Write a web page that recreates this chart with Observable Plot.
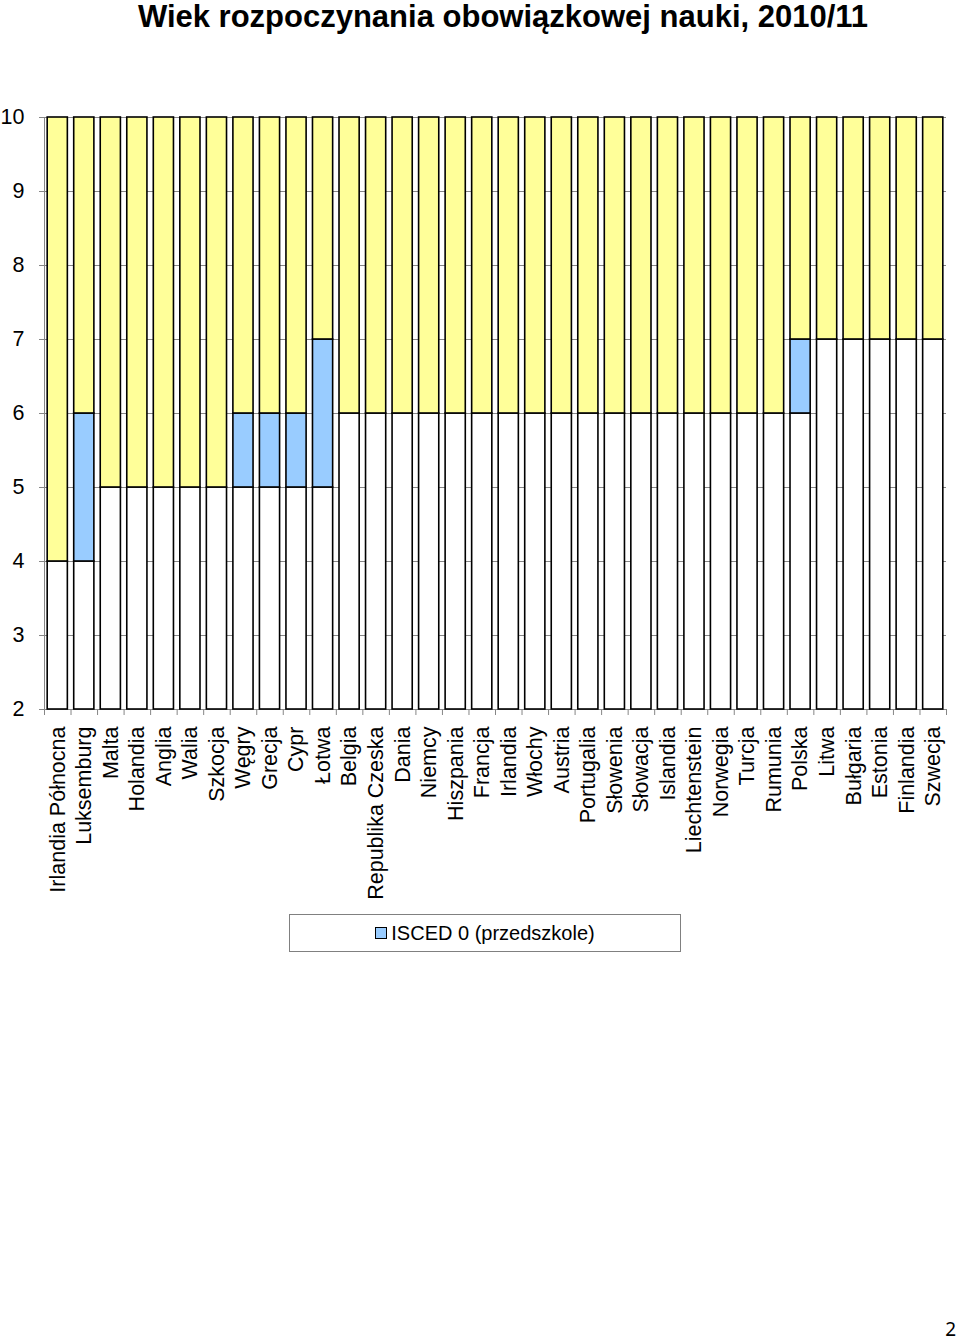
<!DOCTYPE html>
<html>
<head>
<meta charset="utf-8">
<script src="https://cdn.jsdelivr.net/npm/d3@7"></script>
<script src="https://cdn.jsdelivr.net/npm/@observablehq/plot@0.6"></script>
<style>
  body { margin: 0; background: #fff; font-family: "Liberation Sans", Arial, sans-serif; }
  #page { position: relative; width: 960px; height: 1342px; overflow: hidden; }
  #title { position: absolute; top: -1px; left: 46px; width: 914px; text-align: center;
           font-size: 31px; font-weight: bold; line-height: 36px; white-space: nowrap; }
  #chart { position: absolute; top: 40px; left: 0; }
  #legend { position: absolute; top: 914px; left: 289px; width: 390px; height: 36px;
            border: 1px solid #808080; box-sizing: content-box; display: flex;
            align-items: center; justify-content: center; font-size: 20px; }
  #legend .sw { width: 10px; height: 10px; background: #99CCFF; border: 1.5px solid #000; margin-right: 4px; }
  #pagenum { position: absolute; right: 4px; top: 1320px; font-size: 19px; line-height: 18px; font-family: "Noto Sans", sans-serif; }
</style>
</head>
<body>
<div id="page">
  <div id="title">Wiek rozpoczynania obowiązkowej nauki, 2010/11</div>
  <div id="chart"></div>
  <div id="legend"><span class="sw"></span><span>ISCED 0 (przedszkole)</span></div>
  <div id="pagenum">2</div>
</div>
<script>
const countries = ["Irlandia Północna","Luksemburg","Malta","Holandia","Anglia","Walia","Szkocja","Węgry","Grecja","Cypr","Łotwa","Belgia","Republika Czeska","Dania","Niemcy","Hiszpania","Francja","Irlandia","Włochy","Austria","Portugalia","Słowenia","Słowacja","Islandia","Liechtenstein","Norwegia","Turcja","Rumunia","Polska","Litwa","Bułgaria","Estonia","Finlandia","Szwecja"];
// age at which compulsory education starts (end of white segment)
const compulsoryStart = [4,4,5,5,5,5,5,5,5,5,5,6,6,6,6,6,6,6,6,6,6,6,6,6,6,6,6,6,6,7,7,7,7,7];
// age at which compulsory ISCED 1 starts (end of blue ISCED 0 segment)
const primaryStart = [4,6,5,5,5,5,5,6,6,6,7,6,6,6,6,6,6,6,6,6,6,6,6,6,6,6,6,6,7,7,7,7,7,7];
const yMin = 2, yMax = 10;
const yTicks = [2,3,4,5,6,7,8,9,10];
const legendLabel = "ISCED 0 (przedszkole)";

const segments = [];
countries.forEach((c, i) => {
  segments.push({country: c, y1: yMin, y2: compulsoryStart[i], fill: "#FFFFFF"});
  if (primaryStart[i] > compulsoryStart[i])
    segments.push({country: c, y1: compulsoryStart[i], y2: primaryStart[i], fill: "#99CCFF"});
  segments.push({country: c, y1: primaryStart[i], y2: yMax, fill: "#FFFF99"});
});

const W = 960, mL = 44, mR = 14;
const step = (W - mL - mR) / countries.length;
const grey = "#868686";

const chart = Plot.plot({
  width: W,
  height: 865,
  marginTop: 77,
  marginBottom: 196,
  marginLeft: mL,
  marginRight: mR,
  style: {fontFamily: "'Liberation Sans', Arial, sans-serif", background: "#fff", color: "#000"},
  x: {domain: countries, paddingInner: 0.24, paddingOuter: 0.12, round: false, axis: null},
  y: {domain: [yMin, yMax], axis: null},
  marks: [
    Plot.ruleY(yTicks, {stroke: grey, strokeWidth: 1}),
    Plot.ruleX([countries[0]], {dx: -step / 2, y1: yMin, y2: yMax, stroke: grey, strokeWidth: 1}),
    Plot.axisY({ticks: yTicks, tickSize: 5, tickPadding: 15, fontSize: 21.5, stroke: grey, label: null}),
    Plot.axisX({tickSize: 6, dx: step / 2, stroke: grey, fill: "none", tickFormat: () => "", label: null}),
    Plot.axisX({ticks: [countries[0]], tickSize: 6, dx: -step / 2, stroke: grey, fill: "none", tickFormat: () => "", label: null}),
    Plot.axisX({tickSize: 0, tickPadding: 17, tickRotate: -90, fontSize: 21.5, label: null}),
    Plot.rectY(segments, {x: "country", y1: "y1", y2: "y2", fill: "fill", stroke: "#000", strokeWidth: 1.6})
  ]
});
document.getElementById("chart").appendChild(chart);
</script>
</body>
</html>
